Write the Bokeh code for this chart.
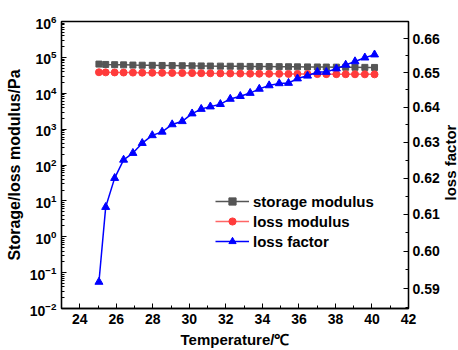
import math
from bokeh.plotting import figure
from bokeh.layouts import row
from bokeh.models import (Range1d, LinearAxis, SingleIntervalTicker, FixedTicker,
                          Legend, LegendItem, LogTickFormatter, NumeralTickFormatter)
from bokeh.core.properties import value
from bokeh.embed import file_html
from bokeh.resources import INLINE

temperature = [25.05, 25.42, 25.91, 26.40, 26.91, 27.42, 27.97, 28.51, 29.06, 29.61,
               30.15, 30.65, 31.15, 31.70, 32.24, 32.79, 33.33, 33.83, 34.37, 34.92,
               35.43, 35.92, 36.47, 37.01, 37.50, 38.05, 38.56, 39.07, 39.61, 40.14]
storage_modulus = [65000, 63500, 62500, 61800, 61000, 60500, 60000, 59500, 59000, 58500,
                   58000, 57700, 57300, 57000, 56600, 56300, 56000, 55700, 55400, 55100,
                   54800, 54500, 54200, 54000, 53700, 53400, 53100, 52900, 52600, 52400]
loss_modulus = [38500, 38200, 38000, 37800, 37600, 37400, 37200, 37000, 36800, 36600,
                36400, 36200, 36000, 35800, 35600, 35400, 35200, 35000, 34800, 34700,
                34600, 34500, 34300, 34200, 34100, 34000, 33900, 33800, 33700, 33600]
loss_factor = [0.5918, 0.6120, 0.6200, 0.6251, 0.6270, 0.6298, 0.6320, 0.6330, 0.6351, 0.6360,
               0.6382, 0.6395, 0.6402, 0.6409, 0.6424, 0.6432, 0.6441, 0.6453, 0.6463, 0.6469,
               0.6470, 0.6483, 0.6491, 0.6502, 0.6502, 0.6512, 0.6523, 0.6533, 0.6544, 0.6553]
right_title = ["loss factor"]

FONT = "Liberation Sans"

p = figure(width=442, height=350, output_backend="svg", toolbar_location=None,
           y_axis_type="log", x_range=Range1d(23, 42), y_range=Range1d(1e-2, 1e6),
           min_border_left=61, min_border_right=30, min_border_top=21, min_border_bottom=42)
p.extra_y_ranges = {"lf": Range1d(0.5848, 0.6651)}
p.grid.visible = False
p.outline_line_color = "black"
p.outline_line_width = 1.3
p.background_fill_color = "white"
p.border_fill_color = "white"

decades = [10.0 ** e for e in range(-2, 7)]
minors = [m * 10.0 ** e for e in range(-2, 6) for m in range(2, 10)]
p.yaxis[0].ticker = FixedTicker(ticks=decades, minor_ticks=minors)
p.yaxis[0].formatter = LogTickFormatter()
p.xaxis[0].ticker = SingleIntervalTicker(interval=2, num_minor_ticks=2)

right = LinearAxis(y_range_name="lf", ticker=SingleIntervalTicker(interval=0.01, num_minor_ticks=2),
                   formatter=NumeralTickFormatter(format="0.00"))
p.add_layout(right, "right")

p.xaxis.axis_label = "Temperature/\u2103"
p.yaxis[0].axis_label = "Storage/loss modulus/Pa"

for ax in [p.xaxis[0], p.yaxis[0], right]:
    ax.axis_line_color = "black"
    ax.axis_line_width = 1.3
    ax.major_tick_in = 5
    ax.major_tick_out = 0
    ax.minor_tick_in = 3
    ax.minor_tick_out = 0
    ax.major_tick_line_color = "black"
    ax.minor_tick_line_color = "black"
    ax.major_label_text_font = FONT
    ax.major_label_text_font_style = "bold"
    ax.major_label_text_font_size = "14px"
    ax.major_label_text_color = "black"
    ax.axis_label_text_font = FONT
    ax.axis_label_text_font_style = "bold"
    ax.axis_label_text_font_size = "15px"
    ax.axis_label_text_color = "black"
    ax.major_label_standoff = 5
    ax.axis_label_standoff = 4
p.yaxis[0].axis_label_text_font_size = "16px"
right.major_label_standoff = 4

sl = p.line(temperature, storage_modulus, line_color="#555555", line_width=1.5)
ss = p.scatter(temperature, storage_modulus, marker="square", size=6,
               fill_color="#555555", line_color="#555555")
ll = p.line(temperature, loss_modulus, line_color="#ff6666", line_width=1.5)
ls = p.scatter(temperature, loss_modulus, marker="circle", size=7,
               fill_color="#ff3b3b", line_color="#ff3b3b")
fl = p.line(temperature, loss_factor, line_color="#0000ff", line_width=1.5, y_range_name="lf")
fs = p.scatter(temperature, loss_factor, marker="triangle", size=8,
               fill_color="#0000ff", line_color="#0000ff", y_range_name="lf")

legend = Legend(items=[LegendItem(label="storage modulus", renderers=[sl, ss]),
                       LegendItem(label="loss modulus", renderers=[ll, ls]),
                       LegendItem(label="loss factor", renderers=[fl, fs])],
                location=(154, 58), border_line_color=None, background_fill_alpha=0,
                glyph_width=34, glyph_height=18, label_height=18, spacing=2,
                padding=4, label_standoff=4,
                label_text_font=FONT, label_text_font_style="bold",
                label_text_font_size="15px", label_text_color="black")
p.add_layout(legend, "center")

# narrow strip that carries the right-hand axis title, reading bottom to top
t = figure(width=16, height=350, output_backend="svg", toolbar_location=None,
           x_range=Range1d(0, 1), y_range=Range1d(0, 350),
           x_axis_location=None, y_axis_location=None,
           min_border_left=0, min_border_right=0, min_border_top=0, min_border_bottom=0)
t.outline_line_color = None
t.grid.visible = False
t.background_fill_color = "white"
t.border_fill_color = "white"
t.text(x=[0.5], y=[178], text=right_title, angle=math.pi / 2,
       text_align="center", text_baseline="middle", text_font=value(FONT),
       text_font_style="bold", text_font_size="15px", text_color="black")

layout = row(p, t, spacing=0)
open("out.html", "w").write(file_html(layout, INLINE))
